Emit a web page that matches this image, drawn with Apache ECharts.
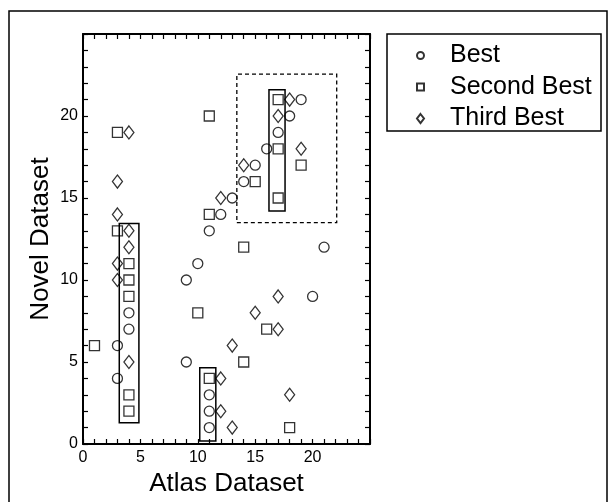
<!DOCTYPE html>
<html>
<head>
<meta charset="utf-8">
<script src="https://cdn.jsdelivr.net/npm/echarts@6/dist/echarts.min.js"></script>
<style>
html,body{margin:0;padding:0;background:#fff;}
#chart{width:616px;height:502px;}
</style>
</head>
<body>
<div id="chart"></div>
<script>
// Data
var seriesNames = ['Best', 'Second Best', 'Third Best'];
var best = [[3,4],[3,6],[4,7],[4,8],[9,5],[9,10],[10,11],[11,1],[11,2],[11,3],[11,13],[12,14],[13,15],[14,16],[15,17],[16,18],[17,19],[18,20],[19,21],[20,9],[21,12]];
var secondBest = [[1,6],[3,13],[3,19],[4,2],[4,3],[4,9],[4,10],[4,11],[10,8],[11,4],[11,14],[11,20],[14,5],[14,12],[15,16],[16,7],[17,15],[17,18],[17,21],[18,1],[19,17]];
var thirdBest = [[3,10],[3,11],[3,14],[3,16],[4,5],[4,12],[4,13],[4,19],[12,2],[12,4],[12,15],[13,1],[13,6],[14,17],[15,8],[17,7],[17,9],[17,20],[18,3],[18,21],[19,18]];
// Highlight boxes: [x1, y1, x2, y2] in data units
var solidBoxes = [[3.16,1.3,4.87,13.45],[10.17,0.18,11.57,4.65],[16.2,14.2,17.6,21.6]];
var dashedBoxes = [[13.4,13.5,22.1,22.55]];
var xTickLabels = [0,5,10,15,20];
var yTickLabels = [0,5,10,15,20];

var FONT = 'Liberation Sans, Arial, Helvetica, sans-serif';
var chart = echarts.init(document.getElementById('chart'), null, {renderer:'canvas'});

function axisCommon(showLabel, labels) {
  return {
    type: 'value', min: 0, max: 25, interval: 5,
    axisLine: {show: true, onZero: false, lineStyle: {color: '#000', width: 2}},
    axisTick: {show: true, inside: true, length: 5, lineStyle: {color: '#000', width: 1.2}},
    minorTick: {show: true, splitNumber: 5, length: 5, lineStyle: {color: '#000', width: 1.2}},
    splitLine: {show: false},
    axisLabel: {
      show: showLabel, color: '#000', fontSize: 16, fontFamily: FONT,
      showMaxLabel: false,
      formatter: function (v) { return labels && labels.indexOf(v) >= 0 ? String(v) : ''; }
    }
  };
}

var xBottom = axisCommon(true, xTickLabels);
xBottom.position = 'bottom';
xBottom.name = 'Atlas Dataset';
xBottom.nameLocation = 'middle';
xBottom.nameGap = 23;
xBottom.nameTextStyle = {color: '#000', fontSize: 26, fontFamily: FONT};
xBottom.axisLabel.margin = 6;
var xTop = axisCommon(false, null);
xTop.position = 'top';

var yLeft = axisCommon(true, yTickLabels);
yLeft.position = 'left';
yLeft.name = 'Novel Dataset';
yLeft.nameLocation = 'middle';
yLeft.nameGap = 29;
yLeft.nameTextStyle = {color: '#000', fontSize: 26, fontFamily: FONT};
yLeft.axisLabel.margin = 5;
var yRight = axisCommon(false, null);
yRight.position = 'right';

var markerStyle = {color: 'rgba(0,0,0,0)', borderColor: '#000', borderWidth: 1.3};

function boxData(list, dashed) {
  return list.map(function (b) {
    return [
      {xAxis: b[0], yAxis: b[1], itemStyle: {color: 'rgba(0,0,0,0)', borderColor: '#000', borderWidth: dashed ? 1.3 : 1.5, borderType: dashed ? [4,3] : 'solid'}},
      {xAxis: b[2], yAxis: b[3]}
    ];
  });
}

var option = {
  backgroundColor: '#fff',
  animation: false,
  grid: {left: 83, right: 246, top: 34, bottom: 58, containLabel: false},
  xAxis: [xBottom, xTop],
  yAxis: [yLeft, yRight],
  legend: {
    orient: 'vertical', left: 416, top: 43, padding: 0,
    itemWidth: 7, itemHeight: 9, itemGap: 6.5,
    symbolKeepAspect: true,
    selectedMode: false,
    data: [
      {name: seriesNames[0], icon: 'circle'},
      {name: seriesNames[1], icon: 'path://M0,0H1V1H0Z'},
      {name: seriesNames[2], icon: 'path://M0,-4.5L3.5,0L0,4.5L-3.5,0Z'}
    ],
    formatter: function (n) { return '{t|' + n + '}'; },
    textStyle: {
      color: '#000', fontSize: 25, fontFamily: FONT,
      rich: {t: {color: '#000', fontSize: 25, fontFamily: FONT, lineHeight: 24, padding: [0,0,0,21]}}
    }
  },
  graphic: [
    {type: 'rect', shape: {x: 9, y: 11, width: 598, height: 500}, style: {fill: 'none', stroke: '#000', lineWidth: 1.5}, silent: true, z: -1},
    {type: 'rect', shape: {x: 387, y: 34, width: 214, height: 97}, style: {fill: 'none', stroke: '#000', lineWidth: 1.5}, silent: true}
  ],
  series: [
    {name: seriesNames[0], type: 'scatter', data: best, symbol: 'circle', symbolSize: 10, itemStyle: markerStyle, emphasis: {disabled: true},
     markArea: {silent: true, data: boxData(solidBoxes, false).concat(boxData(dashedBoxes, true))}},
    {name: seriesNames[1], type: 'scatter', data: secondBest, symbol: 'rect', symbolSize: 10, itemStyle: markerStyle, emphasis: {disabled: true}},
    {name: seriesNames[2], type: 'scatter', data: thirdBest, symbol: 'diamond', symbolSize: [10, 13], itemStyle: markerStyle, emphasis: {disabled: true}}
  ]
};
chart.setOption(option);
</script>
</body>
</html>
